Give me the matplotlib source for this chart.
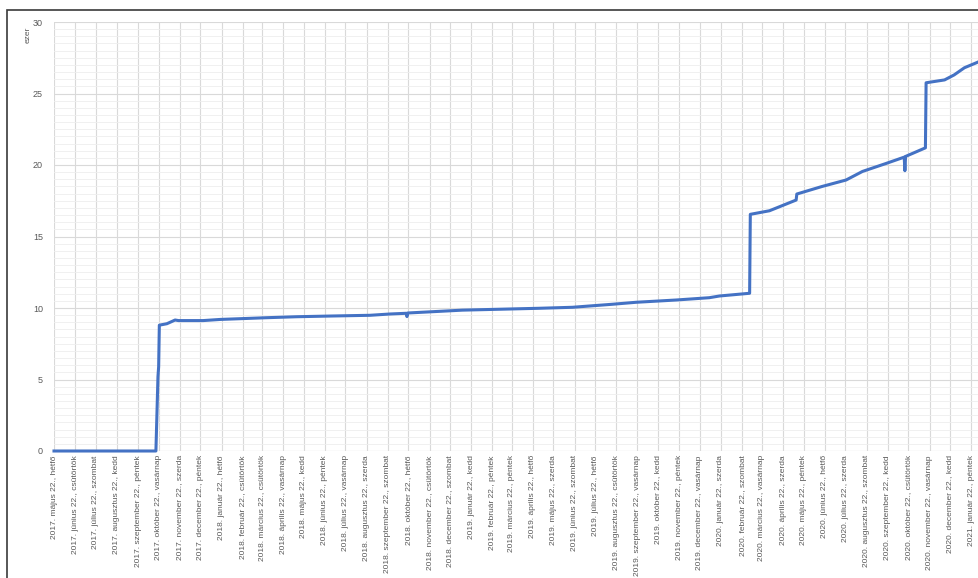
import matplotlib.pyplot as plt
from matplotlib.patches import Rectangle
from matplotlib.ticker import MultipleLocator
import pandas as pd

# values (ezer)
dates = ['2017-05-22', '2017-10-18', '2017-10-21', '2017-10-22', '2017-10-23',
         '2017-11-03', '2017-11-10', '2017-11-15', '2017-11-20', '2017-12-26',
         '2018-01-20', '2018-03-28', '2018-05-12', '2018-07-02', '2018-08-27',
         '2018-09-25', '2018-10-19', '2018-10-20', '2018-10-21', '2019-01-09',
         '2019-05-01', '2019-06-19', '2019-08-16', '2019-09-20', '2019-11-18',
         '2020-01-05', '2020-01-20', '2020-03-04', '2020-03-05', '2020-04-02',
         '2020-05-11', '2020-05-12', '2020-06-18', '2020-07-23', '2020-08-16',
         '2020-09-19', '2020-10-16', '2020-10-17', '2020-10-18', '2020-11-16',
         '2020-11-17', '2020-12-14', '2020-12-28', '2021-01-12', '2021-02-01',
         '2021-02-15']
values = [0, 0, 5.2, 5.9, 8.8,
          8.9, 9.05, 9.16, 9.12, 9.12,
          9.2, 9.32, 9.39, 9.44, 9.49,
          9.58, 9.63, 9.4, 9.65, 9.85,
          9.98, 10.05, 10.26, 10.4, 10.56,
          10.72, 10.84, 11.03, 16.55, 16.8,
          17.55, 17.97, 18.5, 18.95, 19.55,
          20.1, 20.55, 19.6, 20.6, 21.2,
          25.75, 25.95, 26.3, 26.8, 27.2,
          27.6]

honapok = ['január', 'február', 'március', 'április', 'május', 'június',
           'július', 'augusztus', 'szeptember', 'október', 'november', 'december']
napok = ['hétfő', 'kedd', 'szerda', 'csütörtök', 'péntek', 'szombat', 'vasárnap']

start = pd.Timestamp('2017-05-22')
end = pd.Timestamp('2021-03-22')
# monthly ticks on the 22nd, 2017. május .. 2021. január (rest is cut off)
ticks = [start + pd.DateOffset(months=i) for i in range(45)]
tick_labels = ['%d. %s %d., %s' % (t.year, honapok[t.month - 1], t.day, napok[t.weekday()])
               for t in ticks]

x = pd.to_datetime(dates)

W, H = 979, 578
fig = plt.figure(figsize=(W / 100, H / 100), dpi=100)
plt.rcParams['font.family'] = ['Liberation Sans', 'DejaVu Sans']

days_total = (end - start).days
ax = fig.add_axes([54 / W, 1 - 451 / H, days_total * 0.684 / W, 429 / H])

ax.plot(x, values, color='#4472C4', lw=2.2, clip_on=False, zorder=3)

ax.set_xlim(start, end)
ax.set_ylim(0, 30)
ax.set_xticks(ticks)
ax.set_xticklabels(tick_labels, rotation=90, fontsize=6, color='#595959')
ax.yaxis.set_major_locator(MultipleLocator(5))
ax.yaxis.set_minor_locator(MultipleLocator(0.5))
ax.tick_params(axis='y', which='major', labelsize=6.5, labelcolor='#595959', length=0, pad=8)
ax.tick_params(axis='y', which='minor', length=0)
ax.tick_params(axis='x', length=0, pad=3)

ax.grid(True, which='major', color='#d9d9d9', lw=0.8)
ax.grid(True, which='minor', axis='y', color='#eeeeee', lw=0.6)
ax.set_axisbelow(True)
for s in ax.spines.values():
    s.set_visible(False)
ax.axhline(0, color='#d9d9d9', lw=0.8, zorder=1)

fig.text(28 / W, 1 - 35 / H, 'ezer', rotation=90, ha='center', va='center',
         fontsize=6, color='#595959')

# chart border (cut off at right and bottom)
fig.patches.append(Rectangle((7.5 / W, -0.1), 1.1, 1.1 - 10.5 / H, transform=fig.transFigure,
                             fill=False, edgecolor='#3a3a3a', lw=1.2))

fig.savefig('out.png', dpi=100)
